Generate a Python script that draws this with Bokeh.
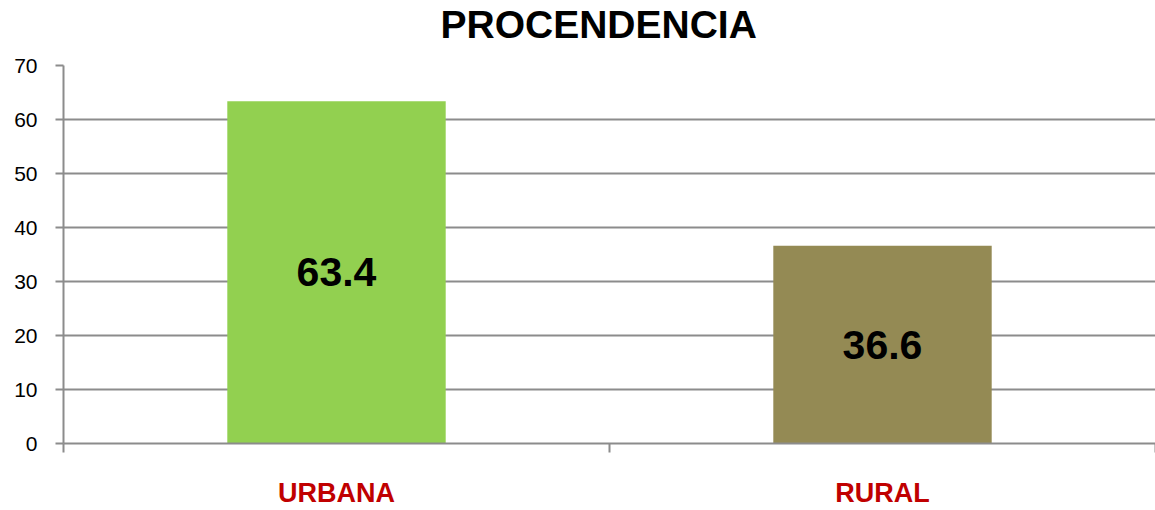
from bokeh.plotting import figure
from bokeh.models import ColumnDataSource, FixedTicker, Range1d, LabelSet, Title
from bokeh.core.properties import value
from bokeh.embed import file_html
from bokeh.resources import INLINE

title_text = "PROCENDENCIA"
categories = ["URBANA", "RURAL"]
values = [63.4, 36.6]
colors = ["#92D050", "#948A54"]
y_ticks = [0, 10, 20, 30, 40, 50, 60, 70]

xpos = [i + 0.5 for i in range(len(categories))]
src = ColumnDataSource(dict(
    x=xpos, top=values, color=colors,
    mid=[v / 2 for v in values],
    label=[f"{v:.1f}" for v in values],
))

p = figure(width=1155, height=510, output_backend="svg", toolbar_location=None,
           x_range=Range1d(0, len(categories)), y_range=Range1d(0, 70),
           min_border_left=63, min_border_right=0,
           min_border_top=0, min_border_bottom=67)
p.outline_line_color = None
p.background_fill_color = "white"
p.border_fill_color = "white"

# spacer between title and frame, then the title itself (added later = further up)
p.add_layout(Title(text=" ", text_font_size="10px", standoff=7), "above")
p.add_layout(Title(text=title_text, align="left", offset=377, vertical_align="bottom",
                   standoff=0, text_font="Liberation Sans", text_font_size="39px",
                   text_font_style="bold", text_color="black"), "above")

p.vbar(x="x", top="top", width=0.4, color="color", source=src, line_color=None)

labels = LabelSet(x="x", y="mid", text="label", source=src, text_align="center",
                  text_baseline="middle", text_font_size=value("41px"),
                  text_font_style="bold", text_color="black",
                  text_font=value("Liberation Sans"))
p.add_layout(labels)

grid_color = "#8C8C8C"
p.xgrid.grid_line_color = None
p.ygrid.grid_line_color = grid_color
p.ygrid.grid_line_width = 2
p.yaxis.ticker = FixedTicker(ticks=y_ticks)
p.yaxis.axis_line_color = grid_color
p.yaxis.axis_line_width = 2
p.yaxis.major_tick_line_color = grid_color
p.yaxis.major_tick_line_width = 2
p.yaxis.major_tick_in = 0
p.yaxis.major_tick_out = 8
p.yaxis.minor_tick_line_color = None
p.yaxis.major_label_text_font = "Liberation Sans"
p.yaxis.major_label_text_font_size = "21px"
p.yaxis.major_label_text_color = "black"
p.yaxis.major_label_standoff = 18

p.xaxis.ticker = FixedTicker(ticks=xpos, minor_ticks=list(range(len(categories) + 1)))
p.xaxis.major_label_overrides = {x: c for x, c in zip(xpos, categories)}
p.xaxis.axis_line_color = grid_color
p.xaxis.axis_line_width = 2
p.xaxis.major_tick_line_color = None
p.xaxis.major_tick_in = 0
p.xaxis.major_tick_out = 0
p.xaxis.minor_tick_line_color = grid_color
p.xaxis.minor_tick_line_width = 2
p.xaxis.minor_tick_in = 0
p.xaxis.minor_tick_out = 9
p.xaxis.major_label_text_font = "Liberation Sans"
p.xaxis.major_label_text_font_size = "27px"
p.xaxis.major_label_text_font_style = "bold"
p.xaxis.major_label_text_color = "#C00000"
p.xaxis.major_label_standoff = 25

open("out.html", "w").write(file_html(p, INLINE))
